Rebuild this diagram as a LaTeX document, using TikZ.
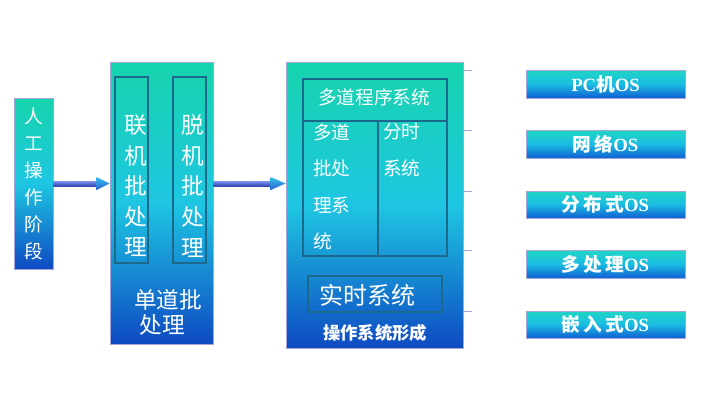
\documentclass[tikz,border=0pt]{standalone}
\usepackage{fontspec}
\setmainfont{Liberation Serif}
\newfontfamily\cjk{Noto Sans CJK SC}
\usetikzlibrary{fit, calc, positioning}

\definecolor{topteal}{RGB}{22,212,172}
\definecolor{midcyan}{RGB}{30,198,226}
\definecolor{botblue}{RGB}{14,74,194}
\definecolor{edgelav}{RGB}{165,165,215}
\definecolor{inneredge}{RGB}{28,105,140}

\tikzset{
  stage/.style={draw=edgelav, line width=0.6pt, inner sep=0pt,
    top color=topteal, bottom color=botblue, middle color=midcyan},
  innerbox/.style={draw=inneredge, line width=0.9pt, inner sep=0pt},
  osbox/.style={draw=edgelav, line width=0.6pt, inner sep=0pt,
    top color={rgb,255:red,32;green,214;blue,196}, bottom color={rgb,255:red,16;green,96;blue,210},
    middle color={rgb,255:red,26;green,188;blue,226}},
  lbl/.style={text=white, inner sep=0pt},
  oslbl/.style={lbl, font=\fontsize{14}{16}\selectfont\bfseries},
  shaft/.style={top color={rgb,255:red,125;green,145;blue,238}, bottom color={rgb,255:red,55;green,72;blue,176}},
  head/.style={top color={rgb,255:red,50;green,192;blue,232}, bottom color={rgb,255:red,42;green,98;blue,210}},
  tick/.style={draw=edgelav, line width=0.6pt}
}

\begin{document}
\begin{tikzpicture}[x=0.75pt, y=-0.75pt]
  \useasboundingbox[fill=white] (0,0) rectangle (706,401);

  % manual stage
  \node[stage, fit={(14,98) (53,269)}] (manual) {};
  \node[lbl, align=center, font=\cjk\fontsize{14}{20.25}\selectfont] (manualtxt) at (manual.center) {人\\工\\操\\作\\阶\\段};

  % single batch stage
  \node[stage, fit={(110,62) (213,344)}] (batch) {};
  \node[innerbox, fit={(115,77) (148,263)}] (online) {};
  \node[innerbox, fit={(173,77) (206,263)}] (offline) {};
  \node[lbl, align=center, font=\cjk\fontsize{17}{22.9}\selectfont] (onlinetxt) at (136,186) {联\\机\\批\\处\\理};
  \node[lbl, align=center, font=\cjk\fontsize{17}{22.9}\selectfont] (offlinetxt) at (193,186) {脱\\机\\批\\处\\理};
  \node[lbl, font=\cjk\fontsize{17}{20}\selectfont] (singleA) at (168,300) {单道批};
  \node[lbl, font=\cjk\fontsize{17}{20}\selectfont] (singleB) at (162,325) {处理};

  % forming of the OS
  \node[stage, fit={(286,62) (463,348)}] (form) {};
  \node[innerbox, fit={(303,79) (447,256)}] (multi) {};
  \node[innerbox, fit={(303,79) (447,121)}] (multihead) {};
  \coordinate (split) at (378,121);
  \draw[innerbox] (split) -- (split |- multi.south);
  \node[lbl, font=\cjk\fontsize{14}{16}\selectfont] (multitxt) at (374,97) {多道程序系统};
  \node[lbl, anchor=west, align=left, font=\cjk\fontsize{14}{27.4}\selectfont] (mbatch) at (313,187) {多道\\批处\\理系\\统};
  \node[lbl, anchor=west, align=left, font=\cjk\fontsize{14}{27.4}\selectfont] (tshare) at (383,150) {分时\\系统};
  \node[innerbox, fit={(308,276) (442,312)}] (realtime) {};
  \node[lbl, font=\cjk\fontsize{18}{20}\selectfont] (realtimetxt) at (367,295) {实时系统};
  \node[lbl, font=\cjk\fontsize{13}{15}\selectfont\bfseries] (formtxt) at (375,333) {操作系统形成};

  % modern systems
  \node[osbox, fit={(526,70) (685,98)}] (os1) {};
  \node[osbox, fit={(526,130) (685,158)}] (os2) {};
  \node[osbox, fit={(526,191) (685,218)}] (os3) {};
  \node[osbox, fit={(526,250) (685,278)}] (os4) {};
  \node[osbox, fit={(526,311) (685,338)}] (os5) {};
  \node[oslbl] at (os1.center) {PC{\cjk 机}OS};
  \node[oslbl] at (os2.center) {{\cjk 网\,络}OS};
  \node[oslbl] at (os3.center) {{\cjk 分\,布\,式}OS};
  \node[oslbl] at (os4.center) {{\cjk 多\,处\,理}OS};
  \node[oslbl] at (os5.center) {{\cjk 嵌\,入\,式}OS};
  \foreach \i in {1,...,5}
    \draw[tick] ($(form.east |- os\i.north)+(0,1)$) -- ++(9,0);

  % arrows
  \coordinate (a1) at (batch.west |- manual.east);
  \coordinate (a2s) at (batch.east |- manual.east);
  \coordinate (a2) at (form.west |- manual.east);
  \path[shaft] ($(manual.east)+(0,-2.5)$) rectangle ($(a1)+(-13,2.5)$);
  \path[head] ($(a1)+(-13,-6.5)$) -- (a1) -- ($(a1)+(-13,6.5)$) -- cycle;
  \path[shaft] ($(a2s)+(0,-2.5)$) rectangle ($(a2)+(-15,2.5)$);
  \path[head] ($(a2)+(-15,-6.5)$) -- (a2) -- ($(a2)+(-15,6.5)$) -- cycle;
\end{tikzpicture}
\end{document}
